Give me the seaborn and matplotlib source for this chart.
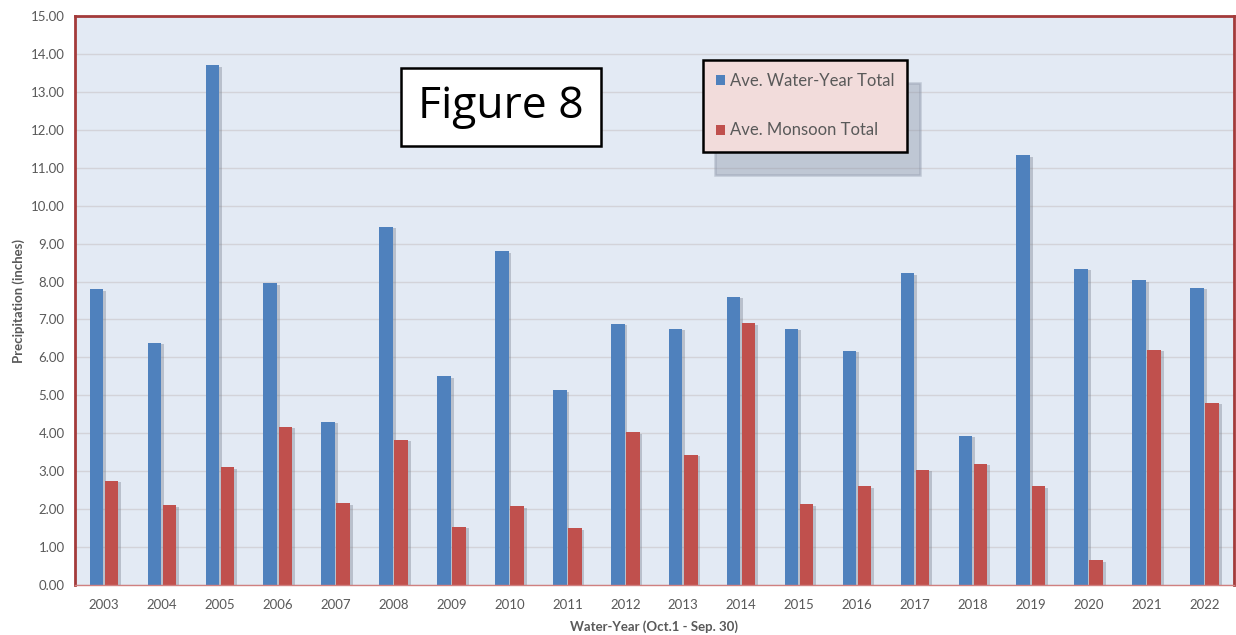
import seaborn as sb
import matplotlib.pyplot as plt
import matplotlib.patheffects as pe
import pandas as pd

years = [str(y) for y in range(2003, 2023)]
water_year = [7.80, 6.38, 13.70, 7.95, 4.30, 9.45, 5.50, 8.80, 5.13, 6.88,
              6.76, 7.60, 6.76, 6.17, 8.22, 3.93, 11.33, 8.33, 8.03, 7.83]
monsoon = [2.75, 2.10, 3.10, 4.17, 2.15, 3.83, 1.53, 2.08, 1.50, 4.03,
           3.43, 6.90, 2.13, 2.60, 3.04, 3.20, 2.60, 0.65, 6.20, 4.80]
series = ['Ave. Water-Year Total', 'Ave. Monsoon Total']

data = pd.DataFrame({
    'Year': years * 2,
    'Value': water_year + monsoon,
    'Series': [series[0]] * len(years) + [series[1]] * len(years),
})

sb.set_style('white')
plt.rcParams['font.family'] = ['Lato', 'DejaVu Sans']

fig = plt.figure(figsize=(12.36, 6.35), dpi=100)
ax = fig.add_axes([0.0607, 0.0787, 0.9373, 0.8961])
ax.set_facecolor('#e3eaf4')

sb.barplot(x='Year', y='Value', hue='Series', data=data, ax=ax,
           palette=['#4f81bd', '#c0504d'], width=0.52, gap=0.1,
           saturation=1, linewidth=0, legend=True)

# soft shadow to the right of each bar
for bar in ax.patches:
    bar.set_path_effects([pe.withSimplePatchShadow(offset=(2, -1), shadow_rgbFace='#7a8290', alpha=0.4),
                          pe.Normal()])

ax.set_xlim(-0.5, 19.5)
ax.set_ylim(0, 15)
ax.set_yticks([i for i in range(16)])
ax.set_yticklabels([f'{i:.2f}' for i in range(16)])
ax.yaxis.grid(True, color='#d3d3d9', linewidth=1)
ax.set_axisbelow(True)
ax.tick_params(axis='both', labelsize=9.5, labelcolor='#595959', length=4, color='#bfbfbf')
ax.tick_params(axis='x', length=0, pad=10)

for s in ['left', 'top', 'right']:
    ax.spines[s].set_color('#a33a3a')
    ax.spines[s].set_linewidth(2)
ax.spines['bottom'].set_color('#d08080')
ax.spines['bottom'].set_linewidth(1)

ax.set_xlabel('Water-Year (Oct.1 - Sep. 30)', fontsize=9.5, fontweight='bold', color='#595959', labelpad=7)
ax.set_ylabel('Precipitation (inches)', fontsize=9.5, fontweight='bold', color='#595959', labelpad=4)

leg = ax.legend(loc='upper left', bbox_to_anchor=(0.542, 0.923), fontsize=12, frameon=True,
                fancybox=False, labelspacing=2.0, handlelength=0.55, handleheight=0.55,
                handletextpad=0.25, borderpad=0.8, borderaxespad=0, labelcolor='#595959',
                shadow={'ox': 9, 'oy': -17, 'color': '#8a94a6', 'alpha': 0.4})
leg.get_frame().set_facecolor('#f2dcdb')
leg.get_frame().set_edgecolor('black')
leg.get_frame().set_linewidth(1.8)
leg.get_frame().set_alpha(1)
for h in leg.legend_handles:
    h.set_path_effects([])

fig.text(0.4053, 1 - 107 / 635, 'Figure 8', fontsize=32, ha='center', va='center', color='black',
         family=['Open Sans', 'DejaVu Sans'],
         bbox=dict(boxstyle='square,pad=0.38', facecolor='white', edgecolor='black', linewidth=1.8))

plt.savefig('out.png', dpi=100)
